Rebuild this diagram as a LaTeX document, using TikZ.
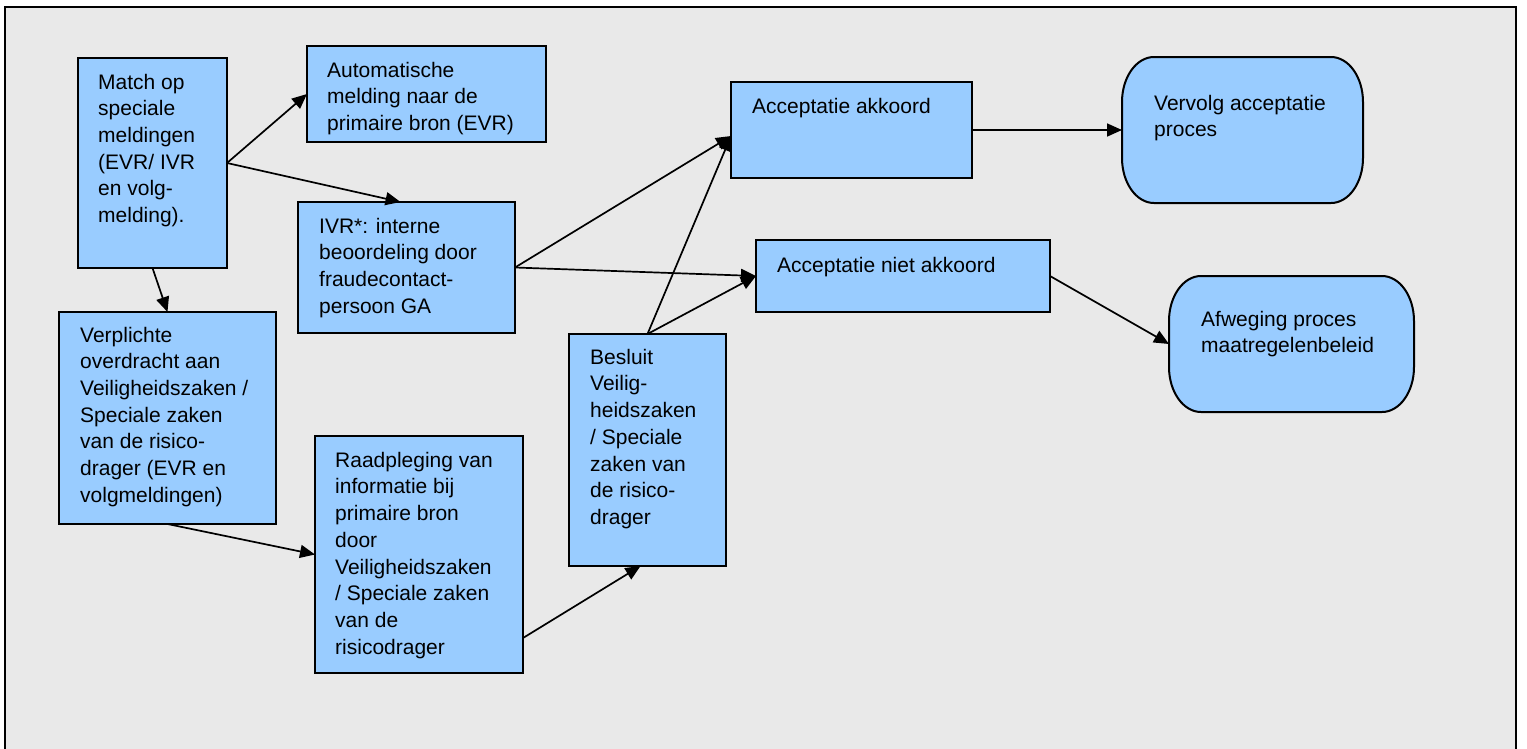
\documentclass[tikz,border=0pt]{standalone}
\usepackage{fontspec}
\setmainfont{Liberation Sans}
\usetikzlibrary{arrows.meta}
\definecolor{boxblue}{HTML}{99CCFF}
\definecolor{panelgray}{HTML}{E9E9E9}
% capsule outline with elliptic corners: #1,#2 = top left, #3,#4 = bottom right
\newcommand\capsule[4]{%
  \draw[line width=2pt, fill=boxblue]
    (#1+32,#2) -- (#3-32,#2)
    .. controls (#3-14.3,#2) and (#3,#2+20.2) .. (#3,#2+45)
    -- (#3,#4-45)
    .. controls (#3,#4-20.2) and (#3-14.3,#4) .. (#3-32,#4)
    -- (#1+32,#4)
    .. controls (#1+14.3,#4) and (#1,#4-20.2) .. (#1,#4-45)
    -- (#1,#2+45)
    .. controls (#1,#2+20.2) and (#1+14.3,#2) .. (#1+32,#2) -- cycle;}
\begin{document}
\begin{tikzpicture}[x=1pt,y=-1pt,
  box/.style={draw=black, line width=2pt, fill=boxblue, rectangle,
    inner sep=0pt, outer sep=0pt, anchor=north west},
  term/.style={rectangle, inner sep=0pt, outer sep=0pt, anchor=north west},
  lbl/.style={anchor=north west, inner sep=0pt, align=left,
    font=\fontsize{21}{26.7}\selectfont},
  conn/.style={line width=1.7pt, -{Triangle[length=15pt,width=13pt]}}]
\useasboundingbox (0,0) rectangle (1527,748);
% grey panel, open at the bottom
\begin{scope}
  \clip (0,0) rectangle (1527,748);
  \draw[fill=panelgray, line width=2.5pt] (5,7) rectangle (1516,790);
\end{scope}

% process boxes
\node[box, minimum width=149pt, minimum height=210pt] (match) at (78,58) {};
\node[box, minimum width=239pt, minimum height=96pt] (auto) at (307,46) {};
\node[box, minimum width=217pt, minimum height=131pt] (ivr) at (298,202) {};
\node[box, minimum width=217pt, minimum height=212pt] (verpl) at (59,312) {};
\node[box, minimum width=208pt, minimum height=237pt] (raad) at (315,436) {};
\node[box, minimum width=157pt, minimum height=232pt] (besl) at (569,334) {};
\node[box, minimum width=241pt, minimum height=96pt] (akk) at (731,82) {};
\node[box, minimum width=294pt, minimum height=72pt] (niet) at (756,240) {};

% end states
\capsule{1122}{57}{1363}{203}
\node[term, minimum width=241pt, minimum height=146pt] (verv) at (1122,57) {};
\capsule{1169}{276}{1414}{412}
\node[term, minimum width=245pt, minimum height=136pt] (afw) at (1169,276) {};

% texts (first baseline 18.7pt below the anchor)
\node[lbl] (matchT) at (98,70.3) {\strut Match op\\speciale\\meldingen\\(EVR/ IVR\\en volg-\\melding).};
\node[lbl] (autoT) at (327,58.3) {\strut Automatische\\melding naar de\\primaire bron (EVR)};
\node[lbl] (ivrT) at (319,214.3) {\strut IVR*: interne\\beoordeling door\\fraudecontact-\\persoon GA};
\node[lbl] (verplT) at (80,323.3) {\strut Verplichte\\overdracht aan\\Veiligheidszaken /\\Speciale zaken\\van de risico-\\drager (EVR en\\volgmeldingen)};
\node[lbl] (raadT) at (335,448.3) {\strut Raadpleging van\\informatie bij\\primaire bron\\door\\Veiligheidszaken\\/ Speciale zaken\\van de\\risicodrager};
\node[lbl] (beslT) at (590,345.3) {\strut Besluit\\Veilig-\\heidszaken\\/ Speciale\\zaken van\\de risico-\\drager};
\node[lbl] (akkT) at (752,94.3) {\strut Acceptatie akkoord};
\node[lbl] (nietT) at (777,253.3) {\strut Acceptatie niet akkoord};
\node[lbl] (vervT) at (1154,91.3) {\strut Vervolg acceptatie\\proces};
\node[lbl] (afwT) at (1201,307.3) {\strut Afweging proces\\maatregelenbeleid};

% connectors
\draw[conn] (match.east) -- (auto.west);
\draw[conn] (match.east) -- ([xshift=-6pt]ivr.north);
\draw[conn] (match.south) -- (verpl.north);
\draw[conn] (verpl.south) -- (raad.west);
\draw[conn] ([yshift=35pt]raad.south east) -- ([xshift=-7pt]besl.south);
\draw[conn] (ivr.east) -- ([yshift=-6pt]akk.west);
\draw[conn] (ivr.east) -- (niet.west);
\draw[conn] (besl.north) -- ([yshift=-6pt]akk.west);
\draw[conn] (besl.north) -- (niet.west);
\draw[conn] (akk.east) -- (verv.west);
\draw[conn] (niet.east) -- (afw.west);
\end{tikzpicture}
\end{document}
